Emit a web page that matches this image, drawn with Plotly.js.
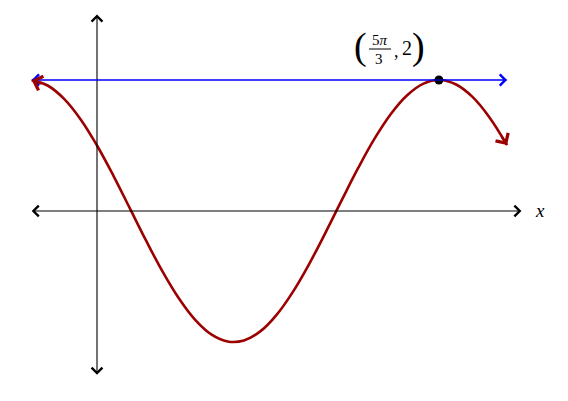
<!DOCTYPE html>
<html>
<head>
<meta charset="utf-8">
<script src="https://cdn.plot.ly/plotly-3.0.1.min.js"></script>
<style>html,body{margin:0;padding:0;background:#fff;}#chart{width:568px;height:401px;}</style>
</head>
<body>
<div id="chart"></div>
<script>
// ---- data ----
const curveX = [-1, -0.75, -0.5, -0.25, 0, 0.25, 0.5, 0.75, 1, 1.25, 1.5, 1.75, 2, 2.25, 2.5, 2.75, 3, 3.25, 3.5, 3.75, 4, 4.25, 4.5, 4.75, 5, 5.25, 5.5, 5.75, 6, 6.28];
const curveY = [1.998, 1.912, 1.708, 1.398, 1.000, 0.541, 0.047, -0.449, -0.917, -1.328, -1.657, -1.883, -1.991, -1.976, -1.838, -1.585, -1.234, -0.807, -0.329, 0.169, 0.657, 1.104, 1.482, 1.768, 1.945, 2.000, 1.931, 1.742, 1.444, 1.006];
const lineX = [-1, 6.28];
const lineY = [2, 2];
const pointX = [5.236];
const pointY = [2];
const xAxisExtent = [-1, 6.5];
const yAxisExtent = [-2.5, 3];
const xLabel = "x";

// ---- layout helpers ----
const X0 = 97, SX = 65.3, Y0 = 211, SY = 65.5, W = 568, H = 401;
const dx = px => (px - X0) / SX;
const dy = py => (Y0 - py) / SY;

const curveColor = "#9c0000";
const serif = "Liberation Serif, DejaVu Serif, serif";

const traces = [
  {x: curveX, y: curveY, mode: "lines", line: {color: curveColor, width: 2.6, shape: "spline", smoothing: 1.1}, hoverinfo: "skip"},
  {x: lineX, y: lineY, mode: "lines", line: {color: "#0000ff", width: 1.2}, hoverinfo: "skip"},
  {x: pointX, y: pointY, mode: "markers", marker: {color: "#000", size: 9}, hoverinfo: "skip"}
];

function arrowLine(x0, y0, x1, y1, color, width, size, both) {
  return {x: x1, y: y1, ax: x0, ay: y0, xref: "x", yref: "y", axref: "x", ayref: "y",
    text: "", showarrow: true, arrowcolor: color, arrowwidth: width,
    arrowhead: 4, arrowsize: size, startarrowhead: 4, startarrowsize: size,
    arrowside: both ? "end+start" : "end", standoff: 0, startstandoff: 0,
    borderpad: 0, borderwidth: 0};
}
function endArrow(xs, ys, atEnd) {
  const n = xs.length;
  const i = atEnd ? n - 1 : 0, j = atEnd ? n - 2 : 1;
  const vx = (xs[j] - xs[i]), vy = (ys[j] - ys[i]);
  const L = Math.hypot(vx, vy), k = 0.16 / L;
  return arrowLine(xs[i] + vx * k, ys[i] + vy * k, xs[i], ys[i], curveColor, 2.4, 1.2, false);
}
function label(text, px, py, size, extra) {
  return Object.assign({x: dx(px), y: dy(py), xref: "x", yref: "y", text: text, showarrow: false,
    xanchor: "center", yanchor: "middle", borderpad: 0, font: {family: serif, size: size, color: "#000"}}, extra || {});
}

const annotations = [
  arrowLine(xAxisExtent[0], 0, xAxisExtent[1], 0, "#000", 1.1, 1.9, true),
  arrowLine(0, yAxisExtent[0], 0, yAxisExtent[1], "#000", 1.1, 1.9, true),
  arrowLine(lineX[0], lineY[0], lineX[1], lineY[1], "#0000ff", 1.2, 1.8, true),
  endArrow(curveX, curveY, true),
  endArrow(curveX, curveY, false),
  label("<i>" + xLabel + "</i>", 540, 210, 19),
  label("(", 360, 46, 38),
  label("5<i>π</i>", 380, 39.5, 15),
  label("3", 379, 58.5, 15),
  label(",", 396, 51, 18),
  label("2", 407, 48, 20),
  label(")", 418, 46, 38)
];

const shapes = [
  {type: "line", xref: "x", yref: "y", x0: dx(369), x1: dx(391), y0: dy(49), y1: dy(49), line: {color: "#000", width: 1}}
];

const layout = {
  width: W, height: H, margin: {l: 0, r: 0, t: 0, b: 0},
  paper_bgcolor: "#fff", plot_bgcolor: "#fff", showlegend: false,
  xaxis: {range: [dx(0), dx(W)], visible: false, fixedrange: true},
  yaxis: {range: [dy(H), dy(0)], visible: false, fixedrange: true},
  annotations: annotations, shapes: shapes
};

Plotly.newPlot("chart", traces, layout, {staticPlot: true, displayModeBar: false});
</script>
</body>
</html>
